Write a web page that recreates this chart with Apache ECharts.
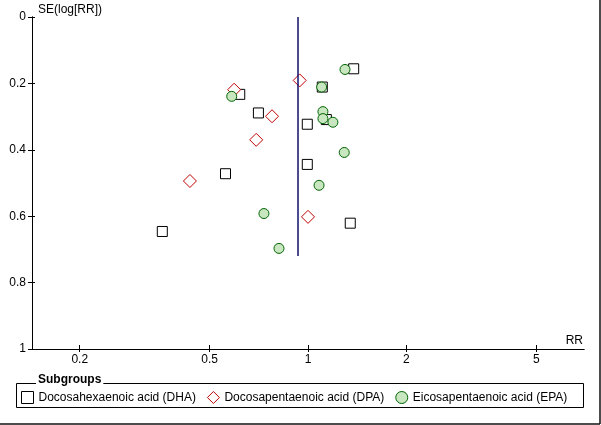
<!DOCTYPE html>
<html>
<head>
<meta charset="utf-8">
<script src="https://cdn.jsdelivr.net/npm/echarts@6/dist/echarts.min.js"></script>
<style>
  html, body { margin: 0; padding: 0; background: #fff; }
  #chart { width: 601px; height: 425px; }
</style>
</head>
<body>
<div id="chart"></div>
<script>
// risk ratio and standard error
const dhaRR = [1.38, 1.106, 0.618, 0.705, 1.138, 0.995, 0.995, 0.559, 1.347, 0.358]
const dhaSE = [0.156, 0.211, 0.233, 0.289, 0.309, 0.323, 0.444, 0.472, 0.621, 0.646]

const dpaRR = [0.943, 0.594, 0.776, 0.694, 0.435, 1.0]
const dpaSE = [0.191, 0.219, 0.299, 0.370, 0.494, 0.602]

const epaRR = [1.298, 1.101, 0.584, 1.111, 1.111, 1.192, 1.291, 1.081, 0.733, 0.815]
const epaSE = [0.158, 0.211, 0.239, 0.285, 0.306, 0.317, 0.408, 0.507, 0.592, 0.697]

// pooled estimate line
const pooledRR = 0.932
const pooledSE = [0, 0.72]

const xTicks = [0.2, 0.5, 1, 2, 5]
const xRange = [1 / 7, 7]

const font = "'Liberation Sans', Arial, sans-serif"
const lg = v => Math.log10(v)
const toPoints = (rr, se) => rr.map((r, i) => [lg(r), se[i]])

const xBase = {
  type: 'value',
  position: 'bottom',
  min: lg(xRange[0]),
  max: lg(xRange[1]),
  splitLine: { show: false },
  axisLine: { onZero: false, lineStyle: { color: '#000', width: 1 } },
}
const yBase = {
  type: 'value',
  position: 'left',
  inverse: true,
  min: 0,
  max: 1,
  interval: 0.2,
  splitLine: { show: false },
  axisLine: { onZero: false, lineStyle: { color: '#000', width: 1 } },
}

const options = {
  animation: false,
  textStyle: { fontFamily: font },
  grid: { left: 32, right: 17, top: 17, bottom: 76 },
  xAxis: [
    {
      ...xBase,
      name: 'RR',
      nameLocation: 'end',
      nameGap: -1,
      nameTextStyle: { color: '#000', fontSize: 12, align: 'right', verticalAlign: 'bottom', padding: [0, 0, 2, 0] },
      axisTick: { show: true, inside: false, length: 3, customValues: xTicks.map(lg), lineStyle: { color: '#000' } },
      axisLabel: {
        customValues: xTicks.map(lg),
        color: '#000',
        fontSize: 12,
        margin: 5,
        formatter: v => String(Math.round(Math.pow(10, v) * 10) / 10),
      },
    },
    {
      ...xBase,
      offset: 0,
      axisTick: { show: true, inside: true, length: 4, customValues: xTicks.map(lg), lineStyle: { color: '#000' } },
      axisLabel: { show: false },
    },
  ],
  yAxis: [
    {
      ...yBase,
      name: 'SE(log[RR])',
      nameLocation: 'start',
      nameGap: 7,
      nameTextStyle: { color: '#000', fontSize: 12, align: 'left', verticalAlign: 'middle', padding: [0, 0, 0, 6] },
      axisTick: { show: true, inside: false, length: 4, lineStyle: { color: '#000' } },
      axisLabel: { color: '#000', fontSize: 12, margin: 6 },
    },
    {
      ...yBase,
      offset: 0,
      axisTick: { show: true, inside: true, length: 3, lineStyle: { color: '#000' } },
      axisLabel: { show: false },
    },
  ],
  legend: {
    left: 16,
    top: 386,
    itemWidth: 12,
    itemHeight: 12,
    itemGap: 11,
    itemStyle: { borderWidth: 1 },
    textStyle: { color: '#000', fontSize: 12, fontFamily: font },
    data: ['Docosahexaenoic acid (DHA)', 'Docosapentaenoic acid (DPA)', 'Eicosapentaenoic acid (EPA)'],
  },
  graphic: [
    {
      type: 'rect',
      shape: { x: 16.5, y: 383.5, width: 567, height: 24 },
      style: { fill: 'none', stroke: '#000', lineWidth: 1 },
      z: 1,
    },
    {
      type: 'text',
      left: 36,
      top: 374,
      style: {
        text: 'Subgroups',
        font: "bold 12px 'Liberation Sans', Arial, sans-serif",
        fill: '#000',
        backgroundColor: '#fff',
        padding: [0, 2],
      },
      z: 2,
    },
    {
      type: 'line',
      shape: { x1: 600, y1: 0, x2: 600, y2: 424 },
      style: { stroke: '#111', lineWidth: 1.5 },
    },
    {
      type: 'line',
      shape: { x1: 0, y1: 424, x2: 600, y2: 424 },
      style: { stroke: '#111', lineWidth: 1.5 },
    },
  ],
  series: [
    {
      name: 'Docosahexaenoic acid (DHA)',
      type: 'scatter',
      symbol: 'rect',
      symbolSize: 10,
      symbolKeepAspect: true,
      itemStyle: { color: '#fff', borderColor: '#000', borderWidth: 1, opacity: 1 },
      data: toPoints(dhaRR, dhaSE),
    },
    {
      name: 'Docosapentaenoic acid (DPA)',
      type: 'scatter',
      symbol: 'diamond',
      symbolSize: 13,
      symbolKeepAspect: true,
      itemStyle: { color: '#fff', borderColor: '#c00000', borderWidth: 1, opacity: 1 },
      data: toPoints(dpaRR, dpaSE),
    },
    {
      name: 'Eicosapentaenoic acid (EPA)',
      type: 'scatter',
      symbol: 'circle',
      symbolSize: 10,
      symbolKeepAspect: true,
      itemStyle: { color: '#c8e6c0', borderColor: '#006400', borderWidth: 1, opacity: 1 },
      data: toPoints(epaRR, epaSE),
    },
    {
      name: 'pooled',
      type: 'line',
      symbol: 'none',
      silent: true,
      z: 5,
      lineStyle: { color: '#10106e', width: 1.5 },
      data: pooledSE.map(s => [lg(pooledRR), s]),
    },
  ],
}

const chart = echarts.init(document.getElementById('chart'))
chart.setOption(options)
window.onresize = function () {
  chart.resize()
}
</script>
</body>
</html>
